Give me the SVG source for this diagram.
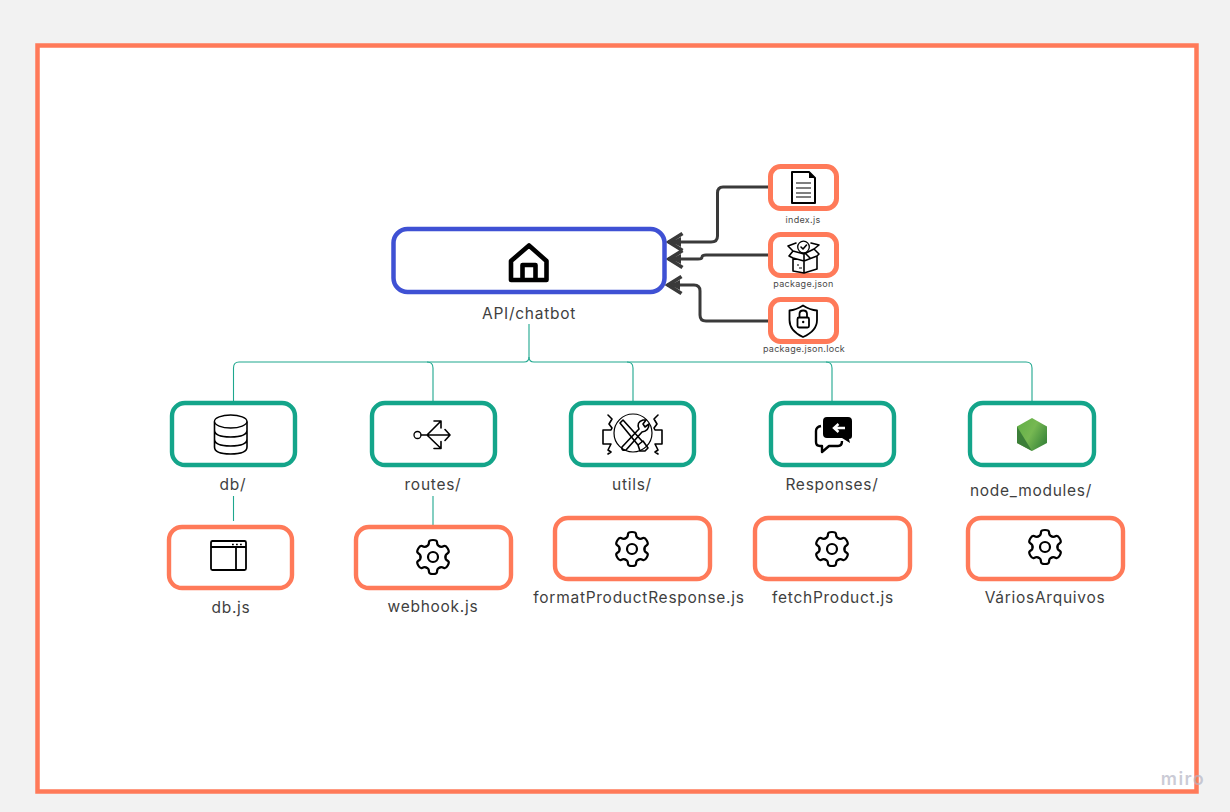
<svg xmlns="http://www.w3.org/2000/svg" width="1230" height="812" viewBox="0 0 1230 812">
  <style>
    .lbl{font-family:"Inter","Noto Sans","Liberation Sans",sans-serif;fill:#3f3f3f;font-size:15.5px;text-anchor:middle;letter-spacing:.73px}
    .sm{font-size:9px;fill:#4a4a4a;letter-spacing:.3px}
    .o{fill:#fff;stroke:#ff7a59;stroke-width:4.400}
    .os{fill:#fff;stroke:#ff7a59;stroke-width:5}
    .g{fill:#fff;stroke:#14a58a;stroke-width:4.400}
    .ic{fill:none;stroke:#000;stroke-width:1.6;stroke-linejoin:round;stroke-linecap:round}
    .tl{fill:none;stroke:#1ea78e;stroke-width:1.1}
    .dk{fill:none;stroke:#3a3a3a;stroke-width:3;marker-end:url(#ah)}
    .tooth{fill:none;stroke:#000;stroke-width:2.200;stroke-linecap:round;stroke-linejoin:round}
  </style>
  <defs>
    <marker id="ah" markerUnits="userSpaceOnUse" markerWidth="22" markerHeight="26" refX="18" refY="13" orient="auto">
      <path d="M3.500,4.500 L17,13 L3.500,21.500 M5,13 H17" fill="none" stroke="#3a3a3a" stroke-width="3.800" stroke-linejoin="miter"/>
      <path d="M5,8 L15,13 L5,18Z" fill="#3a3a3a"/>
    </marker>
    <linearGradient id="ng" x1="0" y1="0" x2="1" y2="0.600">
      <stop offset="0" stop-color="#5fae45"/><stop offset=".55" stop-color="#76b852"/><stop offset="1" stop-color="#3f8a3c"/>
    </linearGradient>
    <path id="tooth" class="tooth" d="M-6.300,-10.800 Q-4,-11.500 -4,-15 Q-4,-17 0,-17 Q4,-17 4,-15 Q4,-11.500 6.300,-10.800"/>
    <g id="gear">
      <use href="#tooth"/>
      <use href="#tooth" transform="rotate(60)"/>
      <use href="#tooth" transform="rotate(120)"/>
      <use href="#tooth" transform="rotate(180)"/>
      <use href="#tooth" transform="rotate(240)"/>
      <use href="#tooth" transform="rotate(300)"/>
      <circle r="5" fill="none" stroke="#000" stroke-width="2.200"/>
    </g>
  </defs>
  <rect width="1230" height="812" fill="#f2f2f2"/>
  <rect id="frame" x="37.500" y="45.500" width="1159" height="746" fill="#fff" stroke="#ff7a59" stroke-width="4.500"/>

  <g id="connectors">
    <path class="tl" stroke-width="1.500" d="M529,324 V357"/>
    <path class="tl" d="M529,357 Q529,362 524,362 H239 Q233.500,362 233.500,368 V401"/>
    <path class="tl" d="M529,357 Q529,362 534,362 H1026 Q1032,362 1032,368 V401"/>
    <path class="tl" d="M427,362 Q433,362 433,368 V401"/>
    <path class="tl" d="M627,362 Q633,362 633,368 V401"/>
    <path class="tl" d="M826,362 Q832,362 832,368 V401"/>
    <path class="tl" d="M233.500,496 V521"/>
    <path class="tl" d="M433,496 V525"/>
    <path class="dk" d="M768,187 H723 Q717.500,187 717.500,193 V236 Q717.500,242 711,242 H668"/>
    <path class="dk" d="M768,255 H706 Q702,255 702,257 Q702,259 698,259 H668"/>
    <path class="dk" d="M768,321 H706 Q700,321 700,315 V291 Q700,285 694,285 H667"/>
  </g>

  <g id="n-api">
    <rect x="393.500" y="229" width="271" height="63" rx="14" fill="#fff" stroke="#3f51d4" stroke-width="4.500"/>
    <path d="M511,261 L529,245.500 L546.500,261 V280 H511Z M522.500,280 V265 H535.500 V280" fill="none" stroke="#000" stroke-width="4.600" stroke-linejoin="round"/>
    <text class="lbl" x="529" y="319">API/chatbot</text>
  </g>

  <g id="n-index">
    <rect class="os" x="770.500" y="166.500" width="66" height="42" rx="10"/>
    <path d="M792,172 H809 L815,178 V203 H792Z" fill="none" stroke="#000" stroke-width="2" stroke-linejoin="round"/>
    <path d="M809,172 V178 H815Z" fill="#000"/>
    <path d="M796,183 H811 M796,188 H811 M796,193 H811 M796,197 H811" stroke="#000" stroke-width="1.200"/>
    <text class="lbl sm" x="803" y="223">index.js</text>
  </g>
  <g id="n-package">
    <rect class="os" x="770.500" y="234.500" width="66" height="41" rx="10"/>
    <path class="ic" stroke-width="1.400" d="M796,243 L788,246 L793,251 L789,256 L793,258 V271 L804,273 L817,269 V256 L819,254 L814,249 L819,245 L811,243 M793,251 L804,254 L814,249 M793,258 L804,261 L817,256 M804,254 V273 M806,254 L810,258"/>
    <circle cx="803.500" cy="247" r="5.800" fill="#fff" stroke="#000" stroke-width="1.300"/>
    <path class="ic" stroke-width="1.300" d="M801,247 L803,249 L806.500,245"/>
    <path d="M797,265 h2 M799,268 h3" stroke="#000" stroke-width="1"/>
    <text class="lbl sm" x="803.500" y="287">package.json</text>
  </g>
  <g id="n-lock">
    <rect class="os" x="770.500" y="299.500" width="66" height="42" rx="10"/>
    <path d="M803,305.500 Q810,310 817,310.500 V320 Q817,331 803,337 Q789.500,331 789.500,320 V310.500 Q796,310 803,305.500Z" fill="none" stroke="#000" stroke-width="1.800" stroke-linejoin="round"/>
    <rect x="797.500" y="317.500" width="11.500" height="10" rx="1.500" fill="none" stroke="#000" stroke-width="1.800"/>
    <path d="M799.500,317 V314 Q799.500,310.500 803.200,310.500 Q807,310.500 807,314 V317" fill="none" stroke="#000" stroke-width="1.800"/>
    <circle cx="803.200" cy="322" r="1.200"/>
    <text class="lbl sm" x="804" y="352">package.json.lock</text>
  </g>

  <g id="n-db">
    <rect class="g" x="172" y="403" width="123" height="62" rx="13"/>
    <path class="ic" stroke-width="1.300" d="M214.500,422 V447 Q214.500,454 230.500,454 Q247,454 247,447 V422 M214.500,430 Q214.500,437 230.500,437 Q247,437 247,430 M214.500,439 Q214.500,446 230.500,446 Q247,446 247,439"/>
    <ellipse cx="230.700" cy="421.500" rx="16.300" ry="6.500" fill="none" stroke="#000" stroke-width="1.300"/>
    <text class="lbl" x="233" y="490">db/</text>
  </g>
  <g id="n-routes">
    <rect class="g" x="372" y="403" width="123" height="62" rx="13"/>
    <circle cx="417.500" cy="435" r="3.500" fill="none" stroke="#000" stroke-width="1.300"/>
    <path class="ic" stroke-width="1.300" d="M421,435 H449.500 M445,429.500 L450,435 L445,440.500 M427,435 L441,421 M434,421 H441 V428 M427,435 L441,448.500 M434,448.500 H441 V441.500"/>
    <text class="lbl" x="433" y="490">routes/</text>
  </g>
  <g id="n-utils">
    <rect class="g" x="571" y="403" width="123" height="62" rx="13"/>
    <circle cx="633" cy="433" r="19" fill="none" stroke="#000" stroke-width="1.200"/>
    <path class="ic" stroke-width="1" d="M608,415 L612,419 L609,424 L612,428 L611,430 H603 V444 H611 L608,450 L611,452 L608,454 M658,415 L654,419 L657,424 L654,428 L655,430 H662 V444 H655 L658,450 L655,452 L658,454"/>
    <path class="ic" stroke-width="1.300" d="M620,423 L623,420 L642,441 M620,423 L638,445 M638,445 L643,441 L648,448 L645,451 L640,451Z"/>
    <path class="ic" stroke-width="1.300" d="M622,447 L639,429 Q636,422 643,420 L646,420 L643,424 L645,427 L649,424 Q649,431 642,432 L626,450 Q621,451 622,447Z" fill="#fff"/>
    <text class="lbl" x="632" y="490">utils/</text>
  </g>
  <g id="n-responses">
    <rect class="g" x="771" y="403" width="123" height="62" rx="13"/>
    <path d="M827,417 H848 Q852,417 852,421 V436 Q852,439 849,439 L850,443 L842,438 H827 Q823,438 823,434 V421 Q823,417 827,417Z" fill="#000"/>
    <path d="M821,426 Q816,427 816,431 V442 Q816,446 820,446 H822 V452 L829,446 H838 Q842,446 842,441" fill="none" stroke="#000" stroke-width="2.400" stroke-linejoin="round"/>
    <path d="M845,428 H835 M838.500,424 L834,428 L838.500,432" fill="none" stroke="#fff" stroke-width="2.400"/>
    <text class="lbl" x="832" y="490">Responses/</text>
  </g>
  <g id="n-node">
    <rect class="g" x="970" y="403" width="124" height="62" rx="13"/>
    <path d="M1032,418 L1047,426.500 V443 L1032,451 L1017,443 V426.500Z" fill="url(#ng)"/>
    <path d="M1017,426.500 L1032,451 L1017,443Z" fill="#3c7f38"/>
    <text class="lbl" x="1031" y="496">node_modules/</text>
  </g>

  <g id="n-dbjs">
    <rect class="o" x="169" y="527" width="123" height="61" rx="13"/>
    <rect x="211" y="541" width="35" height="29" rx="1.500" fill="none" stroke="#000" stroke-width="1.800"/>
    <path d="M211,547 H246 M236,547 V570" stroke="#000" stroke-width="1.800"/>
    <path d="M232,544.500 h1.800 M236,544.500 h1.800 M240,544.500 h1.800" stroke="#000" stroke-width="1.500"/>
    <text class="lbl" x="231" y="613">db.js</text>
  </g>
  <g id="n-webhook">
    <rect class="o" x="356" y="527" width="155" height="61" rx="13"/>
    <use href="#gear" x="433" y="557"/>
    <text class="lbl" x="433" y="612">webhook.js</text>
  </g>
  <g id="n-format">
    <rect class="o" x="555" y="518" width="155" height="61" rx="13"/>
    <use href="#gear" x="632" y="549"/>
    <text class="lbl" x="639" y="603">formatProductResponse.js</text>
  </g>
  <g id="n-fetch">
    <rect class="o" x="755" y="518" width="155" height="61" rx="13"/>
    <use href="#gear" x="832" y="549"/>
    <text class="lbl" x="833" y="603">fetchProduct.js</text>
  </g>
  <g id="n-varios">
    <rect class="o" x="968" y="518" width="155" height="61" rx="13"/>
    <use href="#gear" x="1045" y="547"/>
    <text class="lbl" x="1045" y="603">VáriosArquivos</text>
  </g>

  <text id="watermark" x="1183" y="785" font-family="'Inter','Liberation Sans',sans-serif" font-size="18" font-weight="600" letter-spacing="1.500" text-anchor="middle" fill="#b4b4c4" fill-opacity=".7">miro</text>
</svg>
